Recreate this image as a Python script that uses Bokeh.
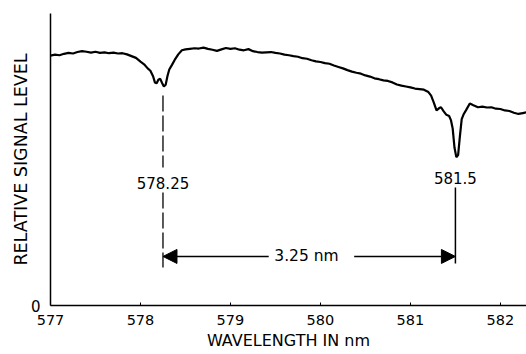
from bokeh.plotting import figure
from bokeh.models import Range1d, FixedTicker, Arrow, NormalHead
from bokeh.embed import file_html
from bokeh.resources import INLINE

# ---- data ----
wavelength = [
    577.00, 577.05, 577.10, 577.15, 577.20, 577.25, 577.30, 577.35, 577.40, 577.45,
    577.50, 577.55, 577.60, 577.65, 577.70, 577.75, 577.80, 577.85, 577.90, 577.95,
    578.00, 578.04, 578.08, 578.11, 578.14, 578.16, 578.18, 578.20, 578.22, 578.24,
    578.26, 578.28, 578.30, 578.32, 578.35, 578.38, 578.42, 578.46, 578.50, 578.55,
    578.60, 578.65, 578.70, 578.75, 578.80, 578.85, 578.90, 578.95, 579.00, 579.05,
    579.10, 579.15, 579.20, 579.25, 579.30, 579.35, 579.40, 579.45, 579.50, 579.55,
    579.60, 579.65, 579.70, 579.75, 579.80, 579.85, 579.90, 579.95, 580.00, 580.05,
    580.10, 580.15, 580.20, 580.25, 580.30, 580.35, 580.40, 580.45, 580.50, 580.55,
    580.60, 580.65, 580.70, 580.75, 580.80, 580.85, 580.90, 580.95, 581.00, 581.05,
    581.10, 581.15, 581.20, 581.23, 581.26, 581.29, 581.32, 581.34, 581.37, 581.40,
    581.43, 581.45, 581.47, 581.49, 581.51, 581.53, 581.55, 581.57, 581.59, 581.62,
    581.66, 581.70, 581.75, 581.80, 581.85, 581.90, 581.95, 582.00, 582.05, 582.10,
    582.15, 582.20, 582.25, 582.30,
]
signal = [
    85.6, 85.9, 85.7, 86.2, 86.5, 86.3, 86.8, 87.1, 86.9, 86.6,
    86.9, 86.5, 86.7, 86.4, 86.6, 86.3, 86.4, 86.0, 85.4, 84.8,
    83.5, 82.6, 81.2, 80.4, 78.5, 76.4, 76.1, 77.4, 77.6, 76.2,
    75.0, 75.6, 78.6, 80.8, 82.4, 84.1, 86.0, 87.4, 87.7, 87.9,
    88.1, 88.0, 88.3, 87.9, 87.6, 87.2, 87.7, 88.2, 87.9, 88.1,
    87.6, 87.4, 87.8, 87.1, 86.8, 86.6, 86.7, 86.8, 86.5, 86.3,
    85.9, 85.7, 85.4, 85.2, 84.7, 84.5, 84.0, 83.6, 83.4, 83.0,
    82.8, 82.2, 81.7, 81.2, 80.6, 80.1, 79.7, 79.4, 78.8, 78.4,
    77.8, 77.5, 77.1, 76.9, 76.4, 75.7, 75.3, 75.0, 74.7, 74.3,
    74.1, 73.9, 73.1, 71.9, 69.5, 66.8, 67.6, 67.9, 66.5, 65.3,
    64.9, 63.5, 60.5, 54.0, 50.8, 51.5, 58.0, 63.8, 65.4, 67.0,
    69.2, 68.6, 67.9, 68.1, 67.8, 67.9, 67.4, 67.3, 66.8, 66.6,
    66.0, 65.6, 65.9, 66.2,
]

x_ticks = [577, 578, 579, 580, 581, 582]
y_ticks = [0]
line_a = 578.25
line_b = 581.5
label_a = "578.25"
label_b = "581.5"
sep_label = "3.25 nm"

FONT = "DejaVu Sans"

p = figure(
    width=526, height=352,
    x_range=Range1d(577.0, 582.29), y_range=Range1d(0, 100),
    output_backend="svg", toolbar_location=None,
    min_border_left=50, min_border_right=0, min_border_top=13, min_border_bottom=30,
)
p.outline_line_color = None
p.xgrid.visible = False
p.ygrid.visible = False
p.background_fill_color = "white"
p.border_fill_color = "white"

# spectrum
p.line(wavelength, signal, line_color="black", line_width=2.2)

# vertical marker lines
p.segment(x0=[line_a, line_a], y0=[71.9, 38.7], x1=[line_a, line_a], y1=[47.3, 13.0],
          line_color="black", line_width=1.3, line_dash="16 4")
p.segment(x0=[line_b], y0=[40.4], x1=[line_b], y1=[14.4],
          line_color="black", line_width=1.5)

# labels
p.text(x=[line_a], y=[41.8], text=[label_a], text_align="center", text_baseline="middle",
       text_font_size="15px", text_color="black", text_font={"value": FONT})
p.text(x=[line_b], y=[43.8], text=[label_b], text_align="center", text_baseline="middle",
       text_font_size="15px", text_color="black", text_font={"value": FONT})
mid = (line_a + line_b) / 2
p.text(x=[mid - 0.03], y=[16.8], text=[sep_label], text_align="center", text_baseline="middle",
       text_font_size="15.5px", text_color="black", text_font={"value": FONT})

# arrows
head = dict(fill_color="black", line_color="black", size=14)
p.add_layout(Arrow(end=NormalHead(**head), x_start=mid - 0.45, y_start=16.8,
                   x_end=line_a, y_end=16.8, line_color="black", line_width=1.5))
p.add_layout(Arrow(end=NormalHead(**head), x_start=mid + 0.5, y_start=16.8,
                   x_end=line_b, y_end=16.8, line_color="black", line_width=1.5))

# axes
xa = p.xaxis[0]
xa.ticker = FixedTicker(ticks=x_ticks)
xa.axis_label = "WAVELENGTH IN nm"
xa.axis_line_width = 1.5
xa.axis_line_color = "black"
xa.major_tick_in = 3
xa.major_tick_out = 0
xa.minor_tick_line_color = None
xa.major_label_text_font = FONT
xa.major_label_text_font_size = "14.5px"
xa.major_label_text_color = "black"
xa.major_label_standoff = 9
xa.axis_label_text_font = FONT
xa.axis_label_text_font_style = "normal"
xa.axis_label_text_font_size = "16px"
xa.axis_label_text_color = "black"
xa.axis_label_standoff = 3

ya = p.yaxis[0]
ya.ticker = FixedTicker(ticks=y_ticks)
ya.axis_label = "RELATIVE SIGNAL LEVEL"
ya.axis_line_width = 1.5
ya.axis_line_color = "black"
ya.major_tick_in = 0
ya.major_tick_out = 0
ya.minor_tick_line_color = None
ya.major_label_text_font = FONT
ya.major_label_text_font_size = "15px"
ya.major_label_text_color = "black"
ya.major_label_standoff = 10
ya.axis_label_text_font = FONT
ya.axis_label_text_font_style = "normal"
ya.axis_label_text_font_size = "17.5px"
ya.axis_label_text_color = "black"
ya.axis_label_standoff = -3

open("out.html", "w").write(file_html(p, INLINE))
